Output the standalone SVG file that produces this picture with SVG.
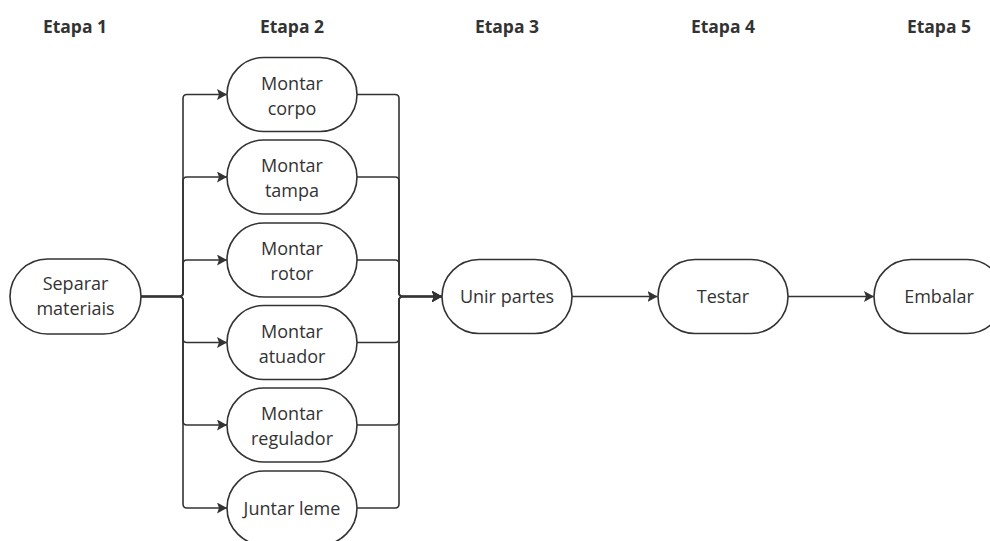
<svg xmlns="http://www.w3.org/2000/svg" width="990" height="541" viewBox="0 0 990 541">
<defs>
<marker id="arr" viewBox="0 0 10 11" refX="10" refY="5.5" markerWidth="10" markerHeight="11" markerUnits="userSpaceOnUse" orient="auto">
<path d="M0,0 L10,5.5 L0,11 L2,5.5 z" fill="#333"/>
</marker>
<style>
.n{fill:#fff;stroke:#333;stroke-width:1.6}
.t{font-family:"Open Sans","Noto Sans","Liberation Sans",sans-serif;font-size:18px;fill:#333;text-anchor:middle}
.h{font-family:"Open Sans","Noto Sans","Liberation Sans",sans-serif;font-size:17.5px;font-weight:bold;fill:#333;text-anchor:middle}
.c{fill:none;stroke:#333;stroke-width:1.6;marker-end:url(#arr)}
</style>
</defs>
<rect width="990" height="541" fill="#fff"/>
<g id="titles">
<text class="h" x="75" y="33">Etapa 1</text>
<text class="h" x="292" y="33">Etapa 2</text>
<text class="h" x="507" y="33">Etapa 3</text>
<text class="h" x="723" y="33">Etapa 4</text>
<text class="h" x="939" y="33">Etapa 5</text>
</g>
<g id="connectors">
<path class="c" d="M141 296.5 H179 Q183 296.5 183 292.5 V98.5 Q183 94.5 187 94.5 H227"/>
<path class="c" d="M141 296.5 H179 Q183 296.5 183 292.5 V181 Q183 177 187 177 H227"/>
<path class="c" d="M141 296.5 H179 Q183 296.5 183 292.5 V264 Q183 260 187 260 H227"/>
<path class="c" d="M141 296.5 H179 Q183 296.5 183 300.5 V338.5 Q183 342.5 187 342.5 H227"/>
<path class="c" d="M141 296.5 H179 Q183 296.5 183 300.5 V421 Q183 425 187 425 H227"/>
<path class="c" d="M141 296.5 H179 Q183 296.5 183 300.5 V504 Q183 508 187 508 H227"/>
<path class="c" d="M357 94.5 H395 Q399 94.5 399 98.5 V292.5 Q399 296.5 403 296.5 H442"/>
<path class="c" d="M357 177 H395 Q399 177 399 181 V292.5 Q399 296.5 403 296.5 H442"/>
<path class="c" d="M357 260 H395 Q399 260 399 264 V292.5 Q399 296.5 403 296.5 H442"/>
<path class="c" d="M357 342.5 H395 Q399 342.5 399 338.5 V300.5 Q399 296.5 403 296.5 H442"/>
<path class="c" d="M357 425 H395 Q399 425 399 421 V300.5 Q399 296.5 403 296.5 H442"/>
<path class="c" d="M357 508 H395 Q399 508 399 504 V300.5 Q399 296.5 403 296.5 H442"/>
<path class="c" d="M572 296.5 H657.5"/>
<path class="c" d="M788 296.5 H874"/>
</g>
<g id="separar">
<rect class="n" x="10" y="259" width="131" height="75" rx="37.5"/>
<text class="t" x="75.5" y="290">Separar</text>
<text class="t" x="75.5" y="315">materiais</text>
</g>
<g id="corpo">
<rect class="n" x="227" y="57.5" width="130" height="74" rx="37"/>
<text class="t" x="292" y="89.5">Montar</text>
<text class="t" x="292" y="114.5">corpo</text>
</g>
<g id="tampa">
<rect class="n" x="227" y="140" width="130" height="74" rx="37"/>
<text class="t" x="292" y="172">Montar</text>
<text class="t" x="292" y="197">tampa</text>
</g>
<g id="rotor">
<rect class="n" x="227" y="223" width="130" height="74" rx="37"/>
<text class="t" x="292" y="255">Montar</text>
<text class="t" x="292" y="280">rotor</text>
</g>
<g id="atuador">
<rect class="n" x="227" y="305.5" width="130" height="74" rx="37"/>
<text class="t" x="292" y="337.5">Montar</text>
<text class="t" x="292" y="362.5">atuador</text>
</g>
<g id="regulador">
<rect class="n" x="227" y="388" width="130" height="74" rx="37"/>
<text class="t" x="292" y="420">Montar</text>
<text class="t" x="292" y="445">regulador</text>
</g>
<g id="juntar">
<rect class="n" x="227" y="471" width="130" height="74" rx="37"/>
<text class="t" x="292" y="514.5">Juntar leme</text>
</g>
<g id="unir">
<rect class="n" x="442" y="259.5" width="130" height="74" rx="37"/>
<text class="t" x="507" y="303">Unir partes</text>
</g>
<g id="testar">
<rect class="n" x="658" y="259.5" width="130" height="74" rx="37"/>
<text class="t" x="723" y="303">Testar</text>
</g>
<g id="embalar">
<rect class="n" x="874" y="259.5" width="130" height="74" rx="37"/>
<text class="t" x="939" y="303">Embalar</text>
</g>
</svg>
